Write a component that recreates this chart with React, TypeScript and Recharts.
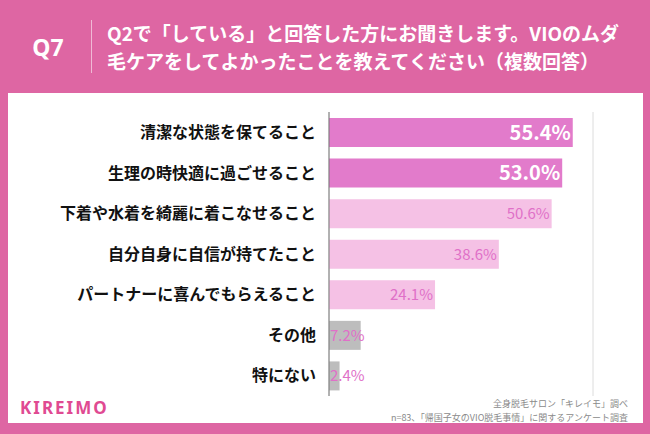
import { Bar, BarChart, CartesianGrid, Cell, LabelList, XAxis, YAxis } from "recharts";

const categories = [
	"清潔な状態を保てること",
	"生理の時快適に過ごせること",
	"下着や水着を綺麗に着こなせること",
	"自分自身に自信が持てたこと",
	"パートナーに喜んでもらえること",
	"その他",
	"特にない",
];
const percents = [55.4, 53.0, 50.6, 38.6, 24.1, 7.2, 2.4];
const xTicks = [0, 15, 30, 45, 60];

const title = [
	"Q2で「している」と回答した方にお聞きします。VIOのムダ",
	"毛ケアをしてよかったことを教えてください（複数回答）",
];
const notes = [
	"全身脱毛サロン「キレイモ」調べ",
	"n=83、「帰国子女のVIO脱毛事情」に関するアンケート調査",
];

const data = categories.map((label, i) => ({ label, value: percents[i] }));

const PINK_BG = "#DE66A3";
const STRONG = "#E27BCB";
const LIGHT = "#F5C1E5";
const GREY = "#BDBDBD";
const FONT = "'Noto Sans CJK JP', 'Noto Sans', sans-serif";

const barColor = (i: number) => (i < 2 ? STRONG : i < 5 ? LIGHT : GREY);

const CategoryTick = (props: any) => {
	const { x, y, payload } = props;
	return (
		<text x={x} y={y} dy="0.36em" textAnchor="end" fontSize={16} fontWeight={700} fill="#111" fontFamily={FONT}>
			{payload.value}
		</text>
	);
};

const ValueLabel = (props: any) => {
	const { x, y, width, height, value, index } = props;
	const strong = index < 2;
	const narrow = width < 36;
	return (
		<text
			x={narrow ? x + 1 : x + width - 2}
			y={y + height / 2}
			dy="0.36em"
			textAnchor={narrow ? "start" : "end"}
			fontSize={strong ? 20 : 15}
			fontWeight={strong ? 700 : 400}
			fill={strong ? "#fff" : "#E070C8"}
			fontFamily={FONT}
		>
			{value.toFixed(1)}%
		</text>
	);
};

export default function App() {
	return (
		<div style={{ position: "absolute", left: 0, top: 0, width: 650, height: 434, background: PINK_BG, fontFamily: FONT, overflow: "hidden" }}>
			<div style={{ position: "absolute", left: 48, top: 47, transform: "translate(-50%, -50%)", color: "#fff", fontSize: 23, fontWeight: 700, fontFamily: "'Noto Sans', sans-serif" }}>
				Q7
			</div>
			<div style={{ position: "absolute", left: 91, top: 20, width: 1, height: 53, background: "rgba(255,255,255,0.55)" }} />
			<div style={{ position: "absolute", left: 107, top: 19, color: "#fff", fontSize: 19, fontWeight: 700, lineHeight: "28px", whiteSpace: "nowrap" }}>
				{title.map((t) => (
					<div key={t}>{t}</div>
				))}
			</div>
			<div style={{ position: "absolute", left: 8, top: 93, width: 635, height: 330, background: "#fff" }} />
			<div style={{ position: "absolute", left: 0, top: 0 }}>
				<BarChart
					width={650}
					height={434}
					data={data}
					layout="vertical"
					margin={{ top: 112, right: 57, bottom: 38, left: 0 }}
					barSize={29}
				>
					<CartesianGrid horizontal={false} stroke="#dcdcdc" strokeWidth={1} />
					<XAxis
						type="number"
						domain={[0, 60]}
						ticks={xTicks}
						tick={false}
						tickLine={false}
						height={0}
						axisLine={{ stroke: "#777", strokeWidth: 1 }}
					/>
					<YAxis
						type="category"
						dataKey="label"
						width={329}
						tickLine={false}
						tickSize={0}
						tickMargin={13}
						axisLine={{ stroke: "#777", strokeWidth: 1 }}
						tick={<CategoryTick />}
						interval={0}
					/>
					<Bar dataKey="value" isAnimationActive={false}>
						{data.map((d, i) => (
							<Cell key={d.label} fill={barColor(i)} />
						))}
						<LabelList dataKey="value" content={<ValueLabel />} />
					</Bar>
				</BarChart>
			</div>
			<div style={{ position: "absolute", left: 20, top: 398, color: "#E04A92", fontSize: 17, fontWeight: 700, letterSpacing: 2, fontFamily: "'Noto Sans', sans-serif", lineHeight: "20px" }}>
				KIREIMO
			</div>
			<div style={{ position: "absolute", right: 22, top: 397, textAlign: "right", color: "#8a8a8a", fontSize: 9, lineHeight: "14px" }}>
				{notes.map((n) => (
					<div key={n} style={{ height: 14 }}>{n}</div>
				))}
			</div>
		</div>
	);
}
